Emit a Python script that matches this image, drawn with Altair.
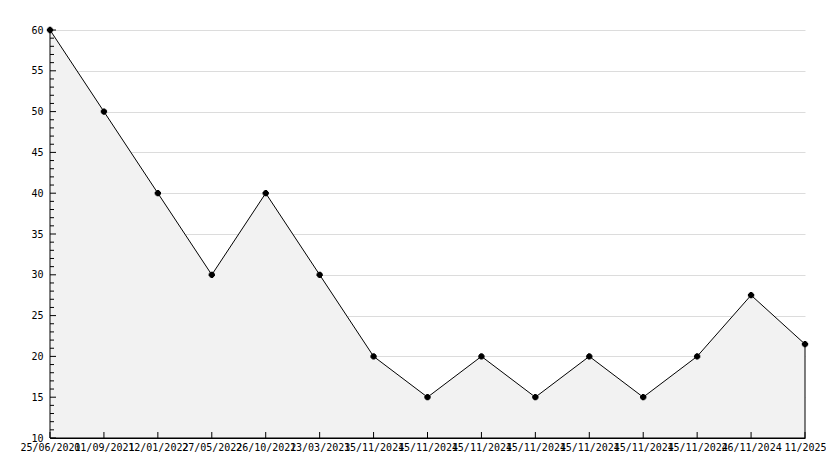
import json
import altair as alt
import pandas as pd

labels = ["25/06/2021", "01/09/2021", "12/01/2022", "27/05/2022", "26/10/2022",
          "13/03/2023", "15/11/2024", "15/11/2024", "15/11/2024", "15/11/2024",
          "15/11/2024", "15/11/2024", "15/11/2024", "26/11/2024", "11/2025"]
values = [60, 50, 40, 30, 40, 30, 20, 15, 20, 15, 20, 15, 20, 27.5, 21.5]

W, H = 755, 408
FONT = "DejaVu Sans Mono"

df = pd.DataFrame({"i": list(range(len(values))), "v": values})
minor_ticks = pd.DataFrame({"t": [t for t in range(10, 61) if t % 5 != 0]})
major_ticks = pd.DataFrame({"t": list(range(10, 61, 5))})
xt = pd.DataFrame({"i": list(range(len(values)))})

xscale = alt.Scale(domain=[0, len(values) - 1], nice=False, zero=False)
yscale = alt.Scale(domain=[10, 60], nice=False, zero=False)

label_expr = json.dumps(labels) + "[datum.value]"

x_axis = alt.Axis(values=list(range(len(values))), labelExpr=label_expr, grid=False,
                  ticks=False, domainColor="black", labelFont=FONT, labelFontSize=10,
                  labelColor="black", labelPadding=4, labelOverlap=False, labelFlush=False,
                  title=None)
y_axis = alt.Axis(values=list(range(10, 61, 5)), grid=True, gridColor="#dcdcdc",
                  ticks=False, domainColor="black", labelFont=FONT, labelFontSize=10,
                  labelColor="black", labelPadding=7, title=None)

base = alt.Chart(df)
area = base.mark_area(color="#f2f2f2", stroke="black", strokeWidth=1).encode(
    x=alt.X("i:Q", scale=xscale, axis=x_axis),
    y=alt.Y("v:Q", scale=yscale, axis=y_axis),
    y2=alt.datum(10),
)
pts1 = base.mark_point(shape="cross", filled=True, size=40, color="black", opacity=1).encode(
    x=alt.X("i:Q", scale=xscale), y=alt.Y("v:Q", scale=yscale))
pts2 = base.mark_point(shape="square", filled=True, size=22, color="black", opacity=1).encode(
    x=alt.X("i:Q", scale=xscale), y=alt.Y("v:Q", scale=yscale))

ymin = alt.Chart(minor_ticks).mark_rule(color="black", strokeWidth=1).encode(
    y=alt.Y("t:Q", scale=yscale), x=alt.value(0), x2=alt.value(4))
ymaj = alt.Chart(major_ticks).mark_rule(color="black", strokeWidth=1).encode(
    y=alt.Y("t:Q", scale=yscale), x=alt.value(0), x2=alt.value(6))
xtk = alt.Chart(xt).mark_rule(color="black", strokeWidth=1).encode(
    x=alt.X("i:Q", scale=xscale), y=alt.value(H - 6), y2=alt.value(H))

chart = alt.layer(area, ymin, ymaj, xtk, pts1, pts2).properties(
    width=W, height=H,
    autosize=alt.AutoSizeParams(type="none"),
    padding={"left": 42, "top": 22, "right": 21, "bottom": 22},
    background="white",
).configure_view(stroke=None)

chart.save("out.html", embed_options={"renderer": "svg", "actions": False})
